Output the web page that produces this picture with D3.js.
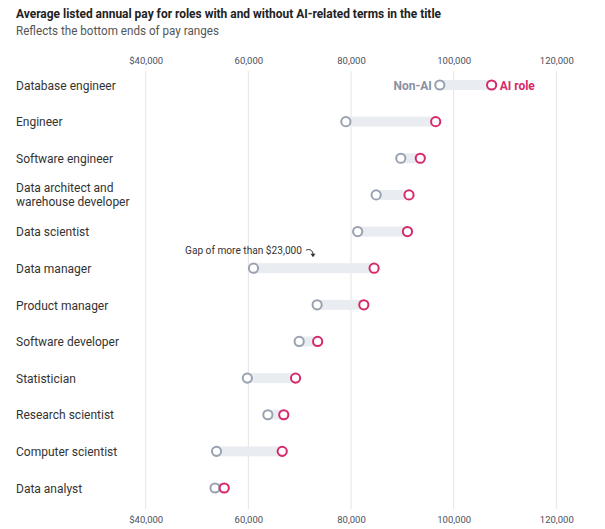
<!DOCTYPE html>
<html><head><meta charset="utf-8">
<script src="https://cdn.jsdelivr.net/npm/d3@7"></script>
<style>
body{margin:0;background:#fff;}
svg{display:block;font-family:Roboto,"Noto Sans",sans-serif;}
</style></head>
<body><svg id="c" width="605" height="529"></svg>
<script>
const categories = ["Database engineer","Engineer","Software engineer","Data architect and warehouse developer","Data scientist","Data manager","Product manager","Software developer","Statistician","Research scientist","Computer scientist","Data analyst"];
const nonAI = [97300,79000,89700,84900,81300,61000,73400,69900,59800,63800,53800,53500];
const aiRole = [107400,96500,93500,91300,91000,84500,82500,73500,69200,66900,66600,55300];
const tickValues = [40000,60000,80000,100000,120000];
const tickLabels = ["$40,000","60,000","80,000","100,000","120,000"];

const svg = d3.select("#c");
const x = d3.scaleLinear().domain([40000,120000]).range([145.7,556.3]);
const y = d3.scalePoint().domain(categories).range([85,488]);

svg.append("text").attr("x",16).attr("y",18).attr("font-size",13.5).attr("font-weight",700).attr("fill","#222")
  .attr("textLength",425).attr("lengthAdjust","spacingAndGlyphs")
  .text("Average listed annual pay for roles with and without AI-related terms in the title");
svg.append("text").attr("x",16).attr("y",35).attr("font-size",12.5).attr("fill","#555")
  .attr("textLength",203).attr("lengthAdjust","spacingAndGlyphs")
  .text("Reflects the bottom ends of pay ranges");

// gridlines
svg.append("g").selectAll("line").data(tickValues).join("line")
  .attr("x1",d=>x(d)).attr("x2",d=>x(d)).attr("y1",71).attr("y2",509)
  .attr("stroke","#e4e4e4").attr("stroke-width",1);

const fmt = d => tickLabels[tickValues.indexOf(d)];
const axTop = svg.append("g").attr("transform","translate(0,64)")
  .call(d3.axisTop(x).tickValues(tickValues).tickFormat(fmt).tickSize(0).tickPadding(0));
const axBot = svg.append("g").attr("transform","translate(0,516)")
  .call(d3.axisBottom(x).tickValues(tickValues).tickFormat(fmt).tickSize(0).tickPadding(0));
[axTop,axBot].forEach(a=>{
  a.select(".domain").remove();
  a.selectAll("text").attr("font-size",9.5).attr("fill","#4a4f5c").attr("font-family","Roboto,sans-serif");
});

const rows = categories.map((c,i)=>({c, a:nonAI[i], b:aiRole[i]}));

// labels
const lab = svg.append("g").selectAll("text").data(rows).join("text")
  .attr("x",16).attr("y",d=>y(d.c)+0.5).attr("font-size",12).attr("fill","#333").attr("dy","0.35em");
lab.each(function(d){
  const t = d3.select(this);
  if(d.c.startsWith("Data architect")){
    t.attr("dy",null);
    t.append("tspan").attr("x",16).attr("y",y(d.c)-3).text("Data architect and");
    t.append("tspan").attr("x",16).attr("y",y(d.c)+11).text("warehouse developer");
  } else t.text(d.c);
});

// bands
svg.append("g").selectAll("rect").data(rows).join("rect")
  .attr("x",d=>x(d.a)).attr("width",d=>x(d.b)-x(d.a))
  .attr("y",d=>y(d.c)-5).attr("height",10).attr("fill","#e9ecf0");

svg.append("g").selectAll("circle").data(rows).join("circle")
  .attr("cx",d=>x(d.a)).attr("cy",d=>y(d.c)).attr("r",4.6)
  .attr("fill","#fff").attr("stroke","#9aa1b0").attr("stroke-width",2);
svg.append("g").selectAll("circle").data(rows).join("circle")
  .attr("cx",d=>x(d.b)).attr("cy",d=>y(d.c)).attr("r",4.6)
  .attr("fill","#fff").attr("stroke","#d6296b").attr("stroke-width",2);

// legend
const r0 = rows[0];
svg.append("text").attr("x",x(r0.a)-8).attr("y",y(r0.c)+0.5).attr("dy","0.35em").attr("text-anchor","end")
  .attr("font-size",12).attr("font-weight",700).attr("fill","#8a90a0").text("Non-AI");
svg.append("text").attr("x",x(r0.b)+8).attr("y",y(r0.c)+0.5).attr("dy","0.35em")
  .attr("font-size",12).attr("font-weight",700).attr("fill","#d6296b").text("AI role");

// annotation
const dm = y("Data manager");
svg.append("text").attr("x",185).attr("y",dm-18).attr("dy","0.35em").attr("font-size",10.5).attr("fill","#333")
  .attr("textLength",117).attr("lengthAdjust","spacingAndGlyphs")
  .text("Gap of more than $23,000");
svg.append("path").attr("d",`M306,${dm-18} C310,${dm-20} 313,${dm-17} 313,${dm-14}`)
  .attr("fill","none").attr("stroke","#333").attr("stroke-width",1);
svg.append("path").attr("d",`M310.5,${dm-14.5} L313,${dm-11} L315.5,${dm-14.5} Z`).attr("fill","#333");
</script></body></html>
